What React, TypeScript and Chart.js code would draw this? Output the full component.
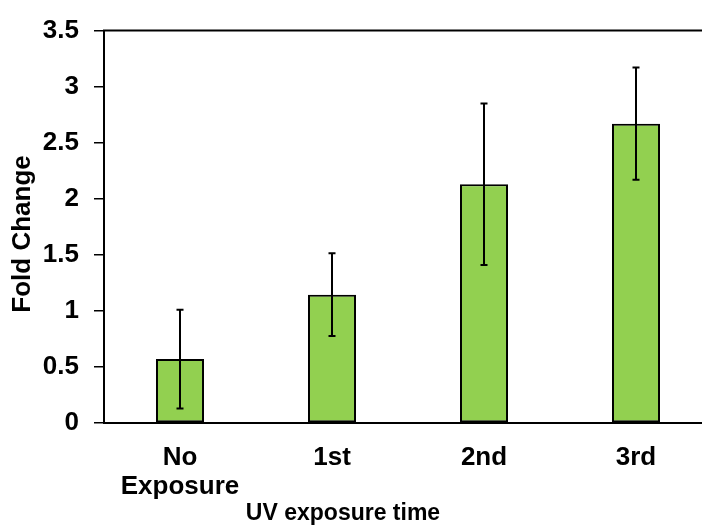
import React, { useEffect, useRef } from "react";
import { Chart, registerables } from "chart.js";

Chart.register(...registerables);

// Fold change per UV exposure round, with standard error
const categories: (string | string[])[] = [["No", "Exposure"], "1st", "2nd", "3rd"];
const foldChange = [0.57, 1.145, 2.13, 2.67];
const errors = [0.44, 0.37, 0.72, 0.5];
const yTicks = [0, 0.5, 1, 1.5, 2, 2.5, 3, 3.5];

const xTitle = "UV exposure time";
const yTitle = "Fold Change";

const FONT = "'Liberation Sans', Arial, sans-serif";
const BAR_GREEN = "#92D050";

const decorations = {
  id: "decorations",
  afterDatasetsDraw(chart: any) {
    const { ctx, chartArea } = chart;
    const y = chart.scales.y;
    const meta = chart.getDatasetMeta(0);
    ctx.save();
    // error bars
    ctx.strokeStyle = "#000";
    ctx.lineWidth = 2;
    meta.data.forEach((bar: any, i: number) => {
      const x = bar.x;
      const top = y.getPixelForValue(foldChange[i] + errors[i]);
      const bottom = y.getPixelForValue(foldChange[i] - errors[i]);
      const cap = 3.5;
      ctx.beginPath();
      ctx.moveTo(x, top);
      ctx.lineTo(x, bottom);
      ctx.moveTo(x - cap, top);
      ctx.lineTo(x + cap, top);
      ctx.moveTo(x - cap, bottom);
      ctx.lineTo(x + cap, bottom);
      ctx.stroke();
    });
    // top frame line
    ctx.beginPath();
    ctx.moveTo(chartArea.left - 1, chartArea.top);
    ctx.lineTo(chartArea.right, chartArea.top);
    ctx.stroke();
    ctx.restore();
  },
  afterDraw(chart: any) {
    const { ctx } = chart;
    ctx.save();
    ctx.fillStyle = "#000";
    ctx.textAlign = "center";
    ctx.textBaseline = "middle";
    ctx.font = `bold 23px ${FONT}`;
    ctx.fillText(xTitle, 343, 514);
    ctx.font = `bold 26px ${FONT}`;
    ctx.translate(23, 234);
    ctx.rotate(-Math.PI / 2);
    ctx.fillText(yTitle, 0, 0);
    ctx.restore();
  },
};

export default function App() {
  const ref = useRef<HTMLCanvasElement>(null);

  useEffect(() => {
    if (!ref.current) return;
    const chart = new Chart(ref.current, {
      type: "bar",
      data: {
        labels: categories,
        datasets: [
          {
            data: foldChange,
            backgroundColor: BAR_GREEN,
            borderColor: "#000",
            borderWidth: 2,
            borderSkipped: false,
            categoryPercentage: 1,
            barPercentage: 0.316,
          },
        ],
      },
      options: {
        responsive: false,
        animation: false,
        layout: { padding: { top: 28, right: 8, left: 0, bottom: 0 } },
        plugins: { legend: { display: false }, tooltip: { enabled: false } },
        scales: {
          x: {
            grid: { display: true, drawOnChartArea: false, drawTicks: false },
            border: { display: true, color: "#000", width: 2 },
            ticks: {
              color: "#000",
              font: { family: FONT, size: 26, weight: "bold", lineHeight: 1.12 },
              padding: 20,
              maxRotation: 0,
              autoSkip: false,
            },
            afterFit(scale: any) {
              scale.height = 104;
            },
          },
          y: {
            min: 0,
            max: 3.5,
            afterBuildTicks(scale: any) {
              scale.ticks = yTicks.map((v) => ({ value: v }));
            },
            grid: { display: true, drawOnChartArea: false, drawTicks: true, tickLength: 10, color: "#000", lineWidth: 1.5 },
            border: { display: true, color: "#000", width: 2 },
            ticks: {
              color: "#000",
              font: { family: FONT, size: 26, weight: "bold" },
              padding: 15,
              callback: (v: any) => String(v),
            },
            afterFit(scale: any) {
              scale.width = 104;
            },
          },
        },
      },
      plugins: [decorations],
    });
    return () => chart.destroy();
  }, []);

  return (
    <div
      style={{
        position: "fixed",
        left: 0,
        top: 0,
        width: 702,
        height: 527,
        overflow: "hidden",
        background: "#fff",
      }}
    >
      <canvas ref={ref} width={720} height={527} style={{ display: "block" }} />
    </div>
  );
}
